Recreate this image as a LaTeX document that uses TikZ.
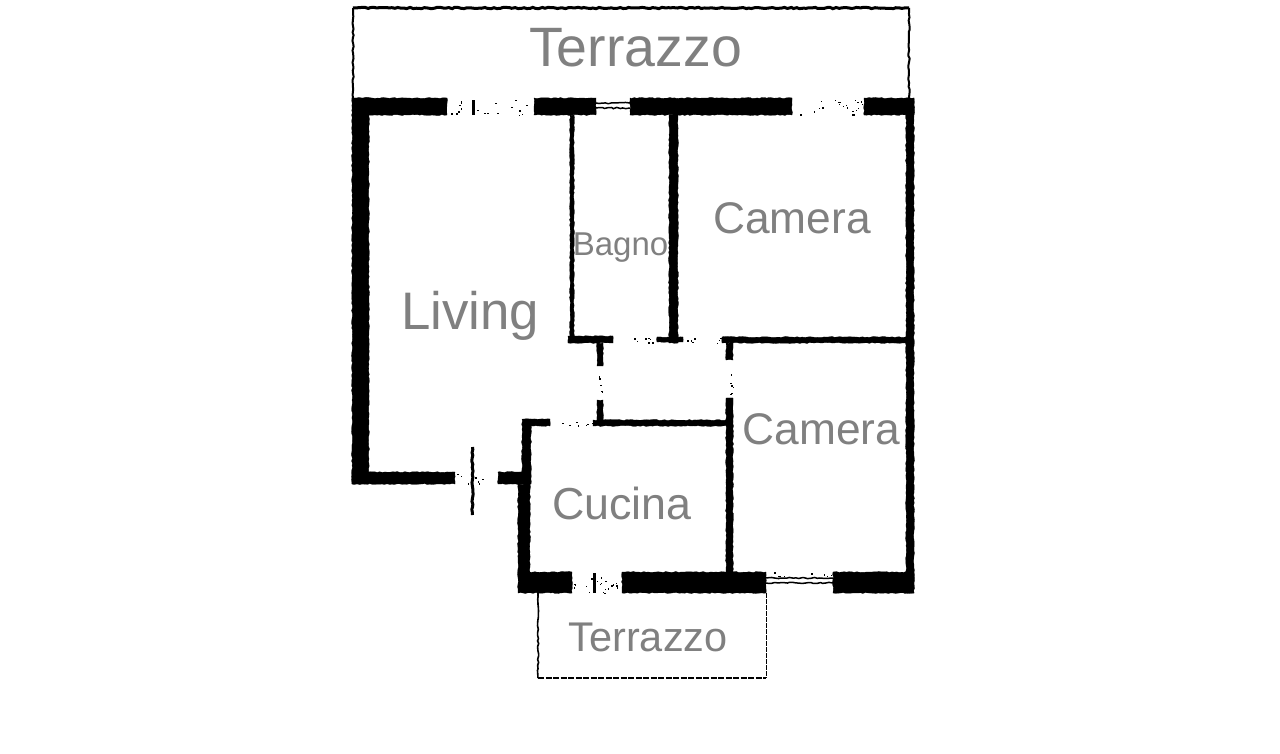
\documentclass[tikz,border=0pt]{standalone}
\usepackage{fontspec}
\setmainfont{Liberation Sans}
\usetikzlibrary{decorations.pathmorphing}
\definecolor{lab}{gray}{0.5}
\tikzset{
  wall/.style={fill=black,draw=black,line width=0.3pt,decorate,decoration={random steps,segment length=2.5pt,amplitude=0.5pt}},
  thin wall/.style={draw=black,line width=#1,decorate,decoration={random steps,segment length=3pt,amplitude=0.7pt}},
  thin wall/.default=1.5pt,
  room/.style={text=lab,anchor=base,inner sep=0pt}
}
\newcommand{\wallrect}[4]{\path[wall] (#1,#3) rectangle (#2,#4);}
\newcommand{\specks}[5]{%
  \foreach \i in {1,...,#5}{%
    \pgfmathsetmacro{\sx}{#1+rnd*(#2-#1)}%
    \pgfmathsetmacro{\sy}{#3+rnd*(#4-#3)}%
    \pgfmathsetmacro{\sw}{0.7+rnd*1.6}%
    \fill[black] (\sx,\sy) rectangle ++(\sw,1.4);%
  }%
}
\begin{document}
\begin{tikzpicture}[x=1pt,y=-1pt]
\pgfmathsetseed{4242}
\useasboundingbox (0,0) rectangle (1280,754);
\fill[white] (0,0) rectangle (1280,754);
% upper terrace
\draw[thin wall=2pt] (353,98) -- (353,8);
\draw[thin wall=3pt] (353,8) -- (909,8);
\draw[thin wall=2pt] (909,8) -- (909,98);
% top wall
\wallrect{352}{447}{98}{115}
\wallrect{534}{596}{98}{115}
\wallrect{630}{792}{98}{115}
\wallrect{864}{914}{98}{115}
\specks{448}{533}{99}{115}{18}
\fill[black] (472,100) rectangle (475,115);
\specks{793}{863}{99}{115}{20}
\draw[thin wall=1.5pt] (596,103) -- (630,103);
\draw[thin wall=1.5pt] (596,108) -- (630,108);
% outer walls
\wallrect{352}{369}{98}{484}
\wallrect{906}{914}{98}{593}
\wallrect{352}{455}{472}{484}
\wallrect{498}{525}{472}{484}
\specks{456}{497}{472}{484}{9}
\draw[thin wall=3pt] (472.5,447) -- (472.5,515);
% bathroom
\wallrect{570}{574}{115}{343}
\wallrect{669}{678}{115}{343}
% hall
\wallrect{568}{613}{336}{343}
\specks{614}{656}{337}{343}{7}
\wallrect{657}{683}{337}{342}
\specks{684}{721}{337}{343}{7}
\wallrect{722}{907}{337}{343}
\wallrect{597}{603}{343}{366}
\specks{597}{603}{376}{392}{5}
\wallrect{597}{603}{400}{420}
\wallrect{726}{733}{343}{360}
\specks{726}{733}{372}{394}{6}
\wallrect{726}{733}{398}{574}
% kitchen
\wallrect{523}{550}{419}{426}
\specks{551}{592}{420}{426}{8}
\wallrect{593}{729}{420}{426}
\wallrect{522}{531}{419}{484}
\wallrect{518}{530}{484}{574}
% bottom wall
\wallrect{518}{572}{572}{593}
\specks{573}{592}{574}{593}{6}
\fill[black] (593,573) rectangle (596,593);
\specks{597}{621}{574}{593}{14}
\wallrect{622}{766}{572}{593}
\wallrect{833}{914}{572}{593}
\draw[thin wall=1.5pt] (766,578) -- (833,578);
\draw[thin wall=1.5pt] (766,583) -- (833,583);
\specks{768}{832}{572}{577}{8}
% lower terrace
\draw[thin wall=1.6pt] (538,593) -- (538,678);
\draw[black,line width=1pt,dash pattern=on 5pt off 1pt] (766,593) -- (766,678);
\draw[black,line width=1.5pt,dash pattern=on 6pt off 1.5pt] (538,678) -- (766,678);
% labels
\node[room,font=\fontsize{55.5}{55.5}\selectfont] (t1) at (635.5,67) {Terrazzo};
\node[room,font=\fontsize{52.8}{52.8}\selectfont] (living) at (470,329) {Living};
\node[room,font=\fontsize{33}{33}\selectfont] (bagno) at (620.5,256) {Bagno};
\node[room,font=\fontsize{44.3}{44.3}\selectfont] (cam1) at (792,234) {Camera};
\node[room,font=\fontsize{44.3}{44.3}\selectfont] (cam2) at (821.5,444) {Camera};
\node[room,font=\fontsize{44.8}{44.8}\selectfont] (cucina) at (622,519) {Cucina};
\node[room,font=\fontsize{41.5}{41.5}\selectfont] (t2) at (648,651) {Terrazzo};
\end{tikzpicture}
\end{document}
